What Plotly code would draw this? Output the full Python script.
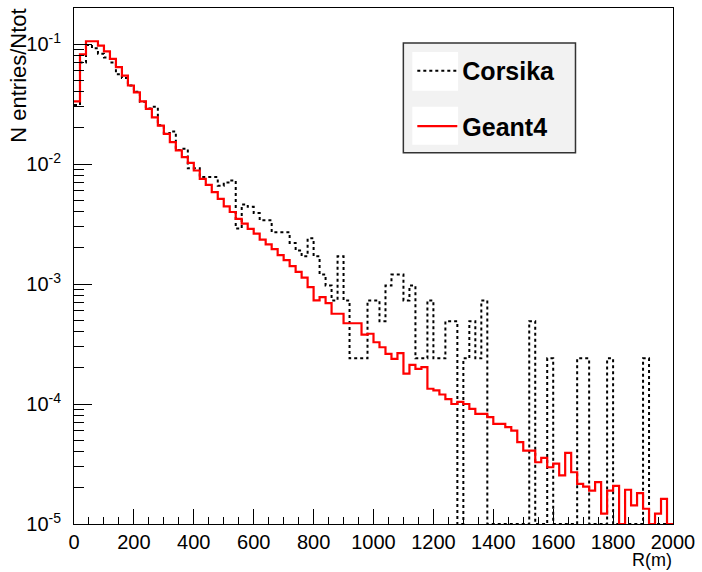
import plotly.graph_objects as go

# ---------------- data ----------------
R_MIN = 0
R_MAX = 2000
BIN_WIDTH = 20

# Corsika: normalised entries per 20 m bin (0 = empty bin)
corsika = [
    0.031, 0.070, 0.098, 0.092, 0.083, 0.077, 0.070, 0.056, 0.052, 0.045,
    0.040, 0.033, 0.029, 0.030, 0.021, 0.018, 0.0187, 0.0131, 0.0134, 0.0092,
    0.0092, 0.0078, 0.0078, 0.0078, 0.0066, 0.0070, 0.0073, 0.0029, 0.0046, 0.0044,
    0.0039, 0.0034, 0.0034, 0.0027, 0.0027, 0.0027, 0.0022, 0.0019, 0.0017, 0.0024,
    0.0017, 0.0012, 0.00097, 0.00073, 0.0017, 0.00073, 0.00024, 0.00024, 0.00024, 0.00073,
    0.00073, 0.00049, 0.00097, 0.0012, 0.0012, 0.00073, 0.00097, 0.00024, 0.00024, 0.00073,
    0.00024, 0.00024, 0.00049, 0.00049, 0.0, 0.00024, 0.00049, 0.00024, 0.00073, 0.0,
    0.0, 0.0, 0.0, 0.0, 0.0, 0.0, 0.00049, 0.0, 0.0, 0.00024,
    0.0, 0.0, 0.0, 0.0, 0.00024, 0.00024, 0.0, 0.0, 0.0, 0.00024,
    0.0, 0.0, 0.0, 0.0, 0.0, 0.00024, 0.0, 0.0, 0.0, 0.0,
]

# Geant4: normalised entries per 20 m bin (0 = empty bin)
geant4 = [
    0.0332, 0.0818, 0.1054, 0.1054, 0.0970, 0.0867, 0.0753, 0.0641, 0.0546, 0.0451,
    0.0396, 0.0332, 0.0288, 0.0245, 0.0209, 0.0178, 0.0152, 0.0130, 0.0114, 0.0102,
    0.00883, 0.00753, 0.00671, 0.00582, 0.00513, 0.00443, 0.00398, 0.00349, 0.00318, 0.00288,
    0.00263, 0.00234, 0.00214, 0.00195, 0.00174, 0.00158, 0.00141, 0.00126, 0.00113, 0.000940,
    0.000729, 0.000776, 0.000692, 0.000565, 0.000565, 0.000471, 0.000471, 0.000471, 0.000378, 0.000385,
    0.000327, 0.000297, 0.000262, 0.000238, 0.000265, 0.000179, 0.000212, 0.000196, 0.000203, 0.000134,
    0.000130, 0.000120, 0.000110, 0.000100, 0.000104, 0.000100, 0.0000912, 0.0000828, 0.0000828, 0.0000776,
    0.0000684, 0.0000684, 0.0000641, 0.0000601, 0.0000481, 0.0000409, 0.0000409, 0.0000327, 0.0000356, 0.0000297,
    0.0000318, 0.0000254, 0.0000392, 0.0000270, 0.0000216, 0.0000205, 0.0000190, 0.0000223, 0.0000122, 0.0000190,
    0.0000208, 0.0, 0.0000193, 0.0000143, 0.0000181, 0.0000134, 0.0, 0.0000122, 0.0000162, 0.0,
]

series_names = ["Corsika", "Geant4"]
x_ticks = [0, 200, 400, 600, 800, 1000, 1200, 1400, 1600, 1800, 2000]
y_tick_exponents = [-5, -4, -3, -2, -1]
y_tick_labels = ["10<sup>-5</sup>", "10<sup>-4</sup>", "10<sup>-3</sup>",
                 "10<sup>-2</sup>", "10<sup>-1</sup>"]

# ---------------- figure ----------------
Y_LOG_MIN = -5
Y_LOG_MAX = -0.7
Y_FLOOR = 10 ** Y_LOG_MIN  # empty bins are drawn down to the axis, as ROOT does

n_bins = len(geant4)
edges = [R_MIN + BIN_WIDTH * i for i in range(n_bins + 1)]


def step_y(vals):
    v = [val if val > 0 else Y_FLOOR for val in vals]
    return v + [v[-1]]


minor_y = [m * 10 ** e for e in y_tick_exponents for m in range(2, 10)]

FONT = "Liberation Sans, Arial, Helvetica, sans-serif"

# legend frame (ROOT TLegend look) in paper coordinates
W, H = 702, 572
ML, MR, MT, MB = 74, 26, 7, 48
PW, PH = W - ML - MR, H - MT - MB


def px_x(p):
    return (p - ML) / PW


def px_y(p):
    return (H - MB - p) / PH


legend_shapes = [
    dict(type="rect", xref="paper", yref="paper", layer="above",
         x0=px_x(405), x1=px_x(578), y0=px_y(152), y1=px_y(42),
         fillcolor="#f2f2f2", line=dict(color="#333333", width=1.5)),
    dict(type="rect", xref="paper", yref="paper", layer="above",
         x0=px_x(414), x1=px_x(460), y0=px_y(90), y1=px_y(51),
         fillcolor="white", line=dict(width=0)),
    dict(type="rect", xref="paper", yref="paper", layer="above",
         x0=px_x(414), x1=px_x(460), y0=px_y(144), y1=px_y(106),
         fillcolor="white", line=dict(width=0)),
]

fig = go.Figure()
fig.add_trace(go.Scatter(
    x=edges, y=step_y(corsika), mode="lines", line_shape="hv",
    name="<b>" + series_names[0] + "</b>", legendgroup="a",
    line=dict(color="black", width=2, dash="3px,3px"),
))
fig.add_trace(go.Scatter(
    x=edges, y=step_y(geant4), mode="lines", line_shape="hv",
    name="<b>" + series_names[1] + "</b>", legendgroup="b",
    line=dict(color="#ff0000", width=2.2),
))

fig.update_layout(
    width=W, height=H,
    margin=dict(l=ML, r=MR, t=MT, b=MB),
    paper_bgcolor="white", plot_bgcolor="white",
    font=dict(family=FONT, color="black"),
    showlegend=True,
    shapes=legend_shapes,
    legend=dict(
        x=px_x(414), y=px_y(47), xanchor="left", yanchor="top",
        bgcolor="rgba(0,0,0,0)", borderwidth=0,
        font=dict(size=25, family=FONT, color="black"),
        traceorder="grouped", tracegroupgap=20, itemwidth=40,
    ),
    xaxis=dict(
        range=[R_MIN, R_MAX], tickvals=x_ticks, ticks="inside", ticklen=15,
        tickwidth=1, tickcolor="black",
        minor=dict(dtick=50, tick0=0, ticks="inside", ticklen=7, tickcolor="black"),
        showline=True, linecolor="black", linewidth=1, mirror=True,
        showgrid=False, zeroline=False, tickfont=dict(size=20, family=FONT),
    ),
    yaxis=dict(
        type="log", range=[Y_LOG_MIN, Y_LOG_MAX],
        tickmode="array",
        tickvals=[10 ** e for e in y_tick_exponents], ticktext=y_tick_labels,
        ticks="inside", ticklen=18, tickwidth=1, tickcolor="black",
        minor=dict(tickmode="array", tickvals=minor_y, ticks="inside", ticklen=10,
                   tickcolor="black", tickwidth=1, showgrid=False),
        showline=True, linecolor="black", linewidth=1, mirror=True,
        showgrid=False, zeroline=False, tickfont=dict(size=20, family=FONT),
        ticklabelstandoff=8,
    ),
    annotations=[
        dict(text="N entries/Ntot", xref="paper", yref="paper", x=px_x(18), y=px_y(5),
             xanchor="center", yanchor="top", textangle=-90, showarrow=False,
             font=dict(size=22, family=FONT)),
        dict(text="R(m)", xref="paper", yref="paper", x=1.0, y=px_y(571),
             xanchor="right", yanchor="bottom", showarrow=False, borderpad=0,
             font=dict(size=18, family=FONT)),
    ],
)

fig.write_html("out.html")
